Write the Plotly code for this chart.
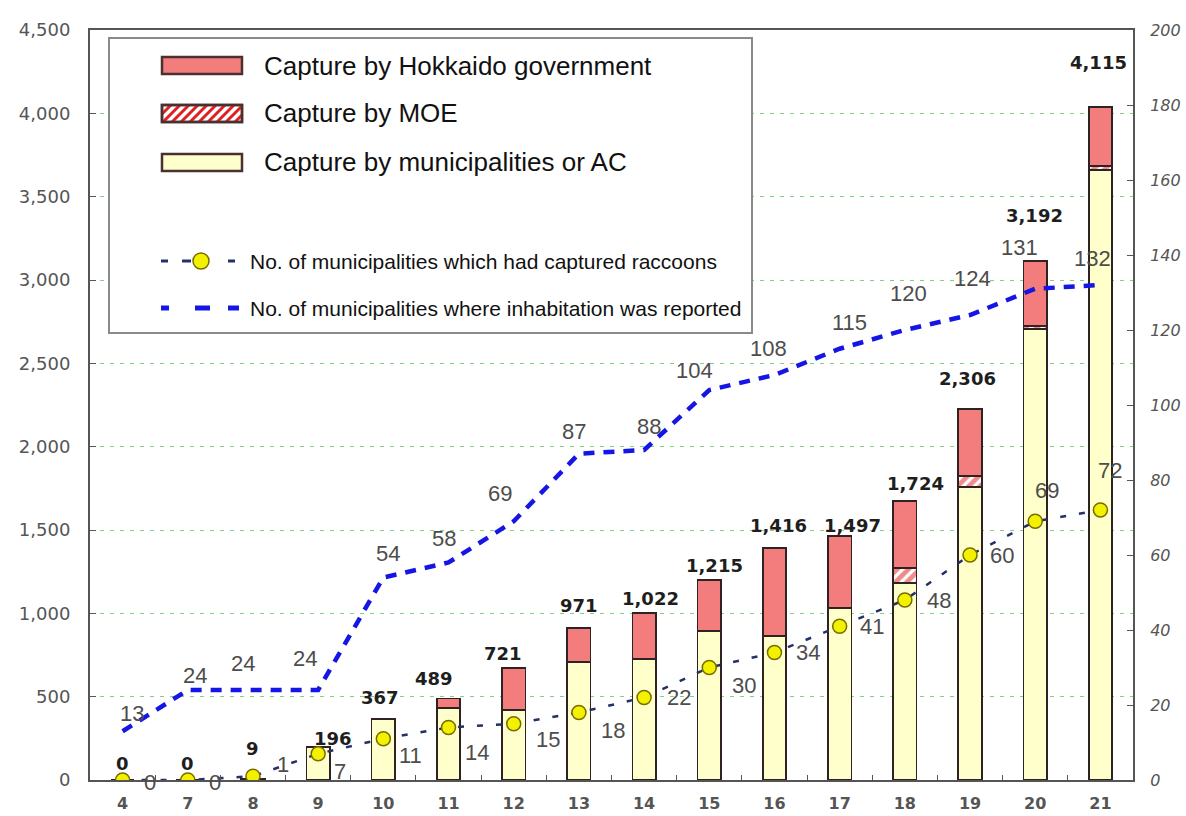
import plotly.graph_objects as go

# ---------------- data ----------------
years = ["4", "7", "8", "9", "10", "11", "12", "13", "14", "15", "16", "17", "18", "19", "20", "21"]
capture_municipal = [0, 0, 9, 196, 367, 432, 420, 708, 726, 894, 864, 1032, 1182, 1758, 2706, 3660]
capture_moe = [0, 0, 0, 0, 0, 0, 0, 0, 0, 0, 0, 0, 90, 66, 18, 24]
capture_hokkaido = [0, 0, 0, 0, 0, 57, 252, 204, 276, 306, 528, 432, 402, 402, 390, 354]
total_labels = ["0", "0", "9", "196", "367", "489", "721", "971", "1,022", "1,215",
                "1,416", "1,497", "1,724", "2,306", "3,192", "4,115"]
munis_captured = [0, 0, 1, 7, 11, 14, 15, 18, 22, 30, 34, 41, 48, 60, 69, 72]
munis_inhabited = [13, 24, 24, 24, 54, 58, 69, 87, 88, 104, 108, 115, 120, 124, 131, 132]

# ---------------- label placement (pixel offsets, layout only) ----------------
total_dx = [0, 0, 0, 15, -3, -15, -11, 0, 6, 5, 4, 13, 11, -3, -1, -2]
total_dy = [17, 17, 30, 9, 21, 20, 15, 23, 15, 15, 23, 11, 18, 31, 46, 45]
inh_dx = [9, 7, -10, -13, 5, -5, -14, -5, 5, -15, -6, 10, 4, 2, -16, -8]
inh_dy = [18, 15, 27, 32, 24, 24, 28, 22, 24, 20, 27, 26, 37, 37, 41, 27]
cap_dx = [27, 27, 30, 22, 27, 28, 34, 34, 35, 35, 34, 32, 34, 32, 12, 10]
cap_dy = [-2, -2, 12, -18, -17, -25, -16, -18, 0, -18, 0, 0, 0, 0, 31, 40]

W, H = 1186, 816
L, R, T, B = 90, 53, 30, 36
PW, PH = W - L - R, H - T - B


def px(x):
    return (x - L) / PW


def py(y):
    return (H - B - y) / PH


RED = "#F37C7C"
YEL = "#FFFFCC"
EDGE = "#2e2222"
BLUE = "#1515E6"
NAVY = "#243068"
MARK = "#F2F200"
MARK_EDGE = "#7a6a00"
GRID = "#80d080"
AX = "#555555"

fig = go.Figure()

fig.add_bar(x=years, y=capture_municipal, width=0.36, name="Capture by municipalities or AC",
            marker=dict(color=YEL, line=dict(color=EDGE, width=1.7)))
fig.add_bar(x=years, y=capture_moe, width=0.36, name="Capture by MOE",
            marker=dict(color="white", line=dict(color=EDGE, width=1.7),
                        pattern=dict(shape="/", fgcolor="#E01818", bgcolor="white", size=8, solidity=0.6)))
fig.add_bar(x=years, y=capture_hokkaido, width=0.36, name="Capture by Hokkaido government",
            marker=dict(color=RED, line=dict(color=EDGE, width=1.7)))

fig.add_scatter(x=years, y=munis_inhabited, yaxis="y2", mode="lines",
                name="No. of municipalities where inhabitation was reported",
                line=dict(color=BLUE, width=4.5, dash="11px,9px"))
fig.add_scatter(x=years, y=munis_captured, yaxis="y2", mode="lines+markers",
                name="No. of municipalities which had captured raccoons",
                line=dict(color=NAVY, width=2.5, dash="6px,13px"),
                marker=dict(size=14, color=MARK, line=dict(color=MARK_EDGE, width=1.5)))

annotations = []
totals_drawn = [a + b + c for a, b, c in zip(capture_municipal, capture_moe, capture_hokkaido)]
for i, yr in enumerate(years):
    # category axis: annotations are placed by category index
    annotations.append(dict(x=i, y=totals_drawn[i], xref="x", yref="y", text="<b>%s</b>" % total_labels[i],
                            showarrow=False, xshift=total_dx[i], yshift=total_dy[i],
                            font=dict(family="DejaVu Sans", size=18, color="#1e1e1e")))
    annotations.append(dict(x=i, y=munis_inhabited[i], xref="x", yref="y2", text=str(munis_inhabited[i]),
                            showarrow=False, xshift=inh_dx[i], yshift=inh_dy[i],
                            font=dict(family="Liberation Sans, Arial", size=22, color="#4d4d4d")))
    annotations.append(dict(x=i, y=munis_captured[i], xref="x", yref="y2", text=str(munis_captured[i]),
                            showarrow=False, xshift=cap_dx[i], yshift=cap_dy[i],
                            font=dict(family="Liberation Sans, Arial", size=22, color="#4d4d4d")))

# ---------------- manual legend ----------------
shapes = []
shapes.append(dict(type="rect", xref="paper", yref="paper", layer="above",
                   x0=px(109), x1=px(752), y0=py(333), y1=py(38),
                   fillcolor="white", line=dict(color="#8a8a8a", width=2)))

leg_bars = [
    ("Capture by Hokkaido government", 57, 74, RED, None),
    ("Capture by MOE", 105, 122, "white", "hatch"),
    ("Capture by municipalities or AC", 154, 171, YEL, None),
]
sx0, sx1 = 162, 242
for text, y0, y1, col, kind in leg_bars:
    shapes.append(dict(type="rect", xref="paper", yref="paper", layer="above",
                       x0=px(sx0), x1=px(sx1), y0=py(y1), y1=py(y0),
                       fillcolor=col, line=dict(color="#4a3030", width=2.5)))
    if kind == "hatch":
        hgt = y1 - y0
        s = sx0 - hgt
        while s < sx1:
            xa, ya = s, y1
            xb, yb = s + hgt, y0
            if xa < sx0:
                ya = y1 - (sx0 - s)
                xa = sx0
            if xb > sx1:
                yb = y1 - (sx1 - s)
                xb = sx1
            shapes.append(dict(type="line", xref="paper", yref="paper", layer="above",
                               x0=px(xa), y0=py(ya), x1=px(xb), y1=py(yb),
                               line=dict(color="#E02020", width=3)))
            s += 9
        shapes.append(dict(type="rect", xref="paper", yref="paper", layer="above",
                           x0=px(sx0), x1=px(sx1), y0=py(y1), y1=py(y0),
                           line=dict(color="#4a3030", width=2.5)))
    annotations.append(dict(x=px(262), y=py((y0 + y1) / 2), xref="paper", yref="paper",
                            xanchor="left", yanchor="middle", text=text, showarrow=False,
                            font=dict(family="Liberation Sans, Arial", size=26, color="#111111")))

# captured line legend
yc = 261
for a, b in [(161, 168), (182, 191), (228, 235)]:
    shapes.append(dict(type="line", xref="paper", yref="paper", layer="above",
                       x0=px(a), x1=px(b), y0=py(yc), y1=py(yc), line=dict(color=NAVY, width=3)))
shapes.append(dict(type="circle", xref="paper", yref="paper", layer="above",
                   x0=px(193), x1=px(209), y0=py(269), y1=py(253),
                   fillcolor=MARK, line=dict(color=MARK_EDGE, width=1.5)))
annotations.append(dict(x=px(248), y=py(yc), xref="paper", yref="paper", xanchor="left", yanchor="middle",
                        text="No. of municipalities which had captured raccoons", showarrow=False,
                        font=dict(family="Liberation Sans, Arial", size=21, color="#111111")))
yi = 308
for a, b in [(161, 169), (195, 210), (228, 239)]:
    shapes.append(dict(type="line", xref="paper", yref="paper", layer="above",
                       x0=px(a), x1=px(b), y0=py(yi), y1=py(yi), line=dict(color=BLUE, width=5)))
annotations.append(dict(x=px(248), y=py(yi), xref="paper", yref="paper", xanchor="left", yanchor="middle",
                        text="No. of municipalities where inhabitation was reported", showarrow=False,
                        font=dict(family="Liberation Sans, Arial", size=21, color="#111111")))

fig.update_layout(
    width=W, height=H,
    margin=dict(l=L, r=R, t=T, b=B, pad=0, autoexpand=False),
    paper_bgcolor="white", plot_bgcolor="white",
    barmode="stack", showlegend=False,
    xaxis=dict(type="category", range=[-0.5, 15.5], showline=True, linecolor=AX, linewidth=2,
               mirror=True, ticks="inside", tickson="boundaries", ticklen=5, tickcolor=AX,
               tickfont=dict(family="DejaVu Sans", size=16, color="#555555", weight="bold"),
               ticklabelstandoff=8, showgrid=False, zeroline=False, automargin=False),
    yaxis=dict(range=[0, 4500], dtick=500, tickformat=",", showline=True, linecolor=AX, linewidth=2,
               ticks="inside", ticklen=6, tickcolor=AX, showgrid=True, gridcolor=GRID, gridwidth=1.3,
               griddash="4px,6px", zeroline=False, automargin=False,
               tickfont=dict(family="DejaVu Sans", size=18, color="#555555"), ticklabelstandoff=14),
    yaxis2=dict(range=[0, 200], dtick=20, overlaying="y", side="right", showline=True, linecolor=AX,
                linewidth=2, ticks="inside", ticklen=6, tickcolor=AX, showgrid=False, zeroline=False,
                automargin=False,
                tickfont=dict(family="DejaVu Sans", size=16, color="#555555", style="italic"),
                ticklabelstandoff=12),
    annotations=annotations,
    shapes=shapes,
)

# remove the browser's default 8px page margin so the figure fills the window exactly
fig.write_html("out.html", config={"displayModeBar": False},
               post_script="document.body.style.margin='0px';")
